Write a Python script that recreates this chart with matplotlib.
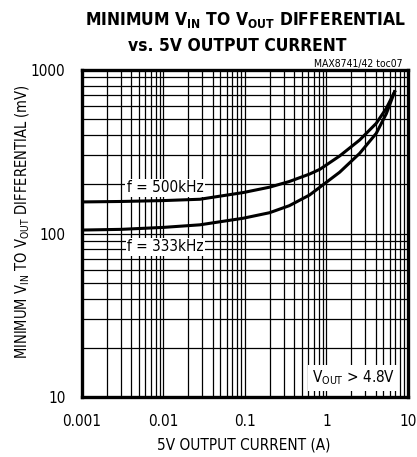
import matplotlib
matplotlib.use("Agg")
import matplotlib.pyplot as plt
from matplotlib.ticker import LogLocator, NullFormatter

plt.rcParams["font.family"] = ["DejaVu Sans"]
plt.rcParams["font.stretch"] = "condensed"
plt.rcParams["mathtext.fontset"] = "custom"
plt.rcParams["mathtext.rm"] = "DejaVu Sans:stretch=condensed"
plt.rcParams["mathtext.bf"] = "DejaVu Sans:stretch=condensed:weight=bold"

# data
i_500 = [0.001, 0.003, 0.01, 0.028, 0.095, 0.2, 0.35, 0.62, 0.83, 1.45, 2.55, 4.08, 5.42, 6.85]
v_500 = [156, 157, 159, 162, 178, 192, 208, 231, 247, 298, 373, 472, 583, 736]
i_333 = [0.001, 0.003, 0.01, 0.028, 0.095, 0.2, 0.35, 0.62, 0.83, 1.45, 2.55, 4.08, 5.42, 6.85]
v_333 = [105, 106, 109, 113, 124, 134, 148, 172, 192, 237, 309, 410, 540, 736]

xticks = [0.001, 0.01, 0.1, 1, 10]
xlabels = ["0.001", "0.01", "0.1", "1", "10"]
yticks = [10, 100, 1000]
ylabels = ["10", "100", "1000"]

fig = plt.figure(figsize=(4.17, 4.57), dpi=100)
ax = fig.add_axes([0.1966, 0.1313, 0.7818, 0.7155])

ax.plot(i_500, v_500, color="black", lw=2.2, solid_joinstyle="round", zorder=4)
ax.plot(i_333, v_333, color="black", lw=2.2, solid_joinstyle="round", zorder=4)

ax.set_xscale("log")
ax.set_yscale("log")
ax.set_xlim(0.001, 10)
ax.set_ylim(10, 1000)
ax.set_xticks(xticks)
ax.set_xticklabels(xlabels)
ax.set_yticks(yticks)
ax.set_yticklabels(ylabels)
ax.xaxis.set_minor_locator(LogLocator(base=10, subs=range(2, 10)))
ax.yaxis.set_minor_locator(LogLocator(base=10, subs=range(2, 10)))
ax.xaxis.set_minor_formatter(NullFormatter())
ax.yaxis.set_minor_formatter(NullFormatter())
ax.tick_params(which="both", length=0, labelsize=11)
ax.tick_params(axis="x", pad=12)
ax.tick_params(axis="y", pad=12)
ax.grid(which="both", color="black", lw=0.9)
for s in ax.spines.values():
    s.set_linewidth(2.4)
    s.set_zorder(5)

ax.set_xlabel("5V OUTPUT CURRENT (A)", fontsize=11)
ax.xaxis.set_label_coords(0.497, -0.125)
ax.set_ylabel("MINIMUM V$_{\\mathrm{IN}}$ TO V$_{\\mathrm{OUT}}$ DIFFERENTIAL (mV)", fontsize=10.5, va="center")
ax.yaxis.set_label_coords(-0.181, 0.535)

box = dict(facecolor="white", edgecolor="none", pad=1.0)
ax.text(0.0105, 190, "f = 500kHz", fontsize=11, ha="center", va="center", bbox=box, zorder=3)
ax.text(0.0105, 83, "f = 333kHz", fontsize=11, ha="center", va="center", bbox=box, zorder=3)
ax.text(2.15, 13.1, "V$_{\\mathrm{OUT}}$ > 4.8V", fontsize=11, ha="center", va="center",
        bbox=dict(facecolor="white", edgecolor="none", pad=2.5), zorder=3)

fig.text(0.588, 0.957, "MINIMUM V$_{\\mathbf{IN}}$ TO V$_{\\mathbf{OUT}}$ DIFFERENTIAL",
         fontsize=12.5, fontweight="heavy", ha="center", va="center")
fig.text(0.568, 0.9, "vs. 5V OUTPUT CURRENT", fontsize=12.5, fontweight="heavy", ha="center", va="center")
fig.text(0.966, 0.86, "MAX8741/42 toc07", fontsize=7.5, ha="right", va="center")

fig.savefig("out.png", dpi=100)
